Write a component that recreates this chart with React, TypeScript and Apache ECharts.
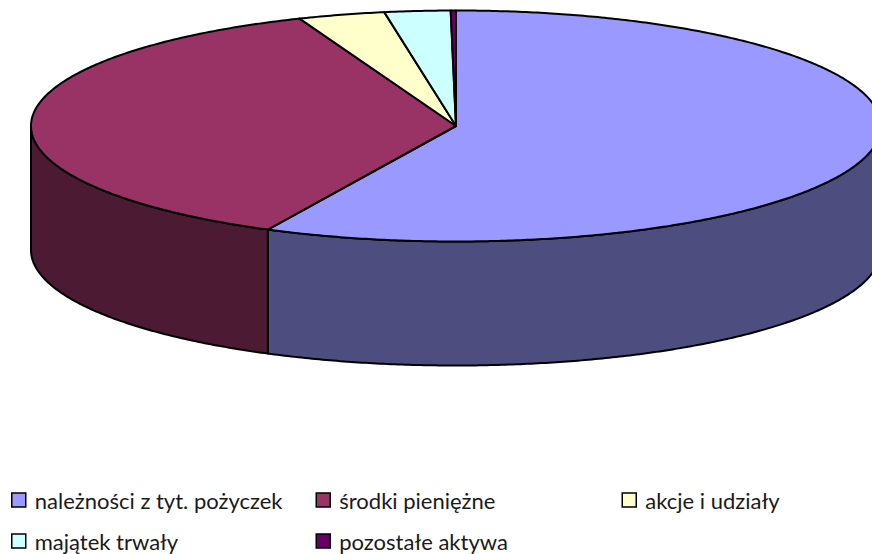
import React, { useEffect, useRef } from "react";
import * as echarts from "echarts";

const categories = ["należności z tyt. pożyczek", "środki pieniężne", "akcje i udziały", "majątek trwały", "pozostałe aktywa"];
const values = [57.3, 36.7, 3.3, 2.5, 0.2];
const topColors = ["#9999FF", "#993366", "#FFFFCC", "#CCFFFF", "#660066"];
const sideColors = ["#4D4D80", "#4D1A33", "#808066", "#668080", "#330033"];
const legendLeft = [11, 315.5, 621.5, 11, 315.5];
const legendTop = [489, 489, 489, 530, 530];

const CX = 456, CY = 126, RX = 425, RY = 115.5, DEPTH = 124;
const LINE = 2;

const total = values.reduce((a, b) => a + b, 0);
function point(deg: number, dy = 0): number[] {
  const r = (deg * Math.PI) / 180;
  return [CX + RX * Math.sin(r), CY - RY * Math.cos(r) + dy];
}
function arc(a: number, b: number, dy = 0): number[][] {
  const out: number[][] = [];
  const n = Math.max(1, Math.ceil((b - a) / 0.5));
  for (let i = 0; i <= n; i++) out.push(point(a + ((b - a) * i) / n, dy));
  return out;
}

function sliceRenderer(idx: number) {
  const start = (values.slice(0, idx).reduce((a, b) => a + b, 0) / total) * 360;
  const end = start + (values[idx] / total) * 360;
  return () => {
    const children: any[] = [];
    const fa = Math.max(start, 90), fb = Math.min(end, 270);
    if (fb > fa) {
      const pts = arc(fa, fb).concat(arc(fa, fb, DEPTH).reverse());
      children.push({
        type: "polygon",
        shape: { points: pts },
        style: { fill: sideColors[idx], stroke: "#000", lineWidth: LINE, lineJoin: "round" },
      });
    }
    children.push({
      type: "polygon",
      shape: { points: [[CX, CY], ...arc(start, end)] },
      style: { fill: topColors[idx], stroke: "#000", lineWidth: LINE, lineJoin: "round" },
    });
    return { type: "group", children };
  };
}

export default function App() {
  const ref = useRef<HTMLDivElement>(null);
  useEffect(() => {
    document.body.style.margin = "0";
    const chart = echarts.init(ref.current!, null, { renderer: "svg" });
    chart.setOption({
      animation: false,
      backgroundColor: "#fff",
      legend: categories.map((name, i) => ({
        data: [{ name, icon: "rect" }],
        left: legendLeft[i],
        top: legendTop[i],
        padding: 0,
        selectedMode: false,
        itemWidth: 14,
        itemHeight: 14,
        itemStyle: { borderColor: "#000", borderWidth: 1.5 },
        textStyle: { fontFamily: "Lato", fontSize: 22, color: "#1a1a1a", padding: [0, 0, 2, 4] },
      })),
      series: categories.map((name, i) => ({
        type: "custom",
        name,
        coordinateSystem: "none",
        silent: true,
        itemStyle: { color: topColors[i] },
        data: [[values[i]]],
        renderItem: sliceRenderer(i),
      })),
    });
    return () => chart.dispose();
  }, []);
  return <div ref={ref} style={{ width: 872, height: 554 }} />;
}
